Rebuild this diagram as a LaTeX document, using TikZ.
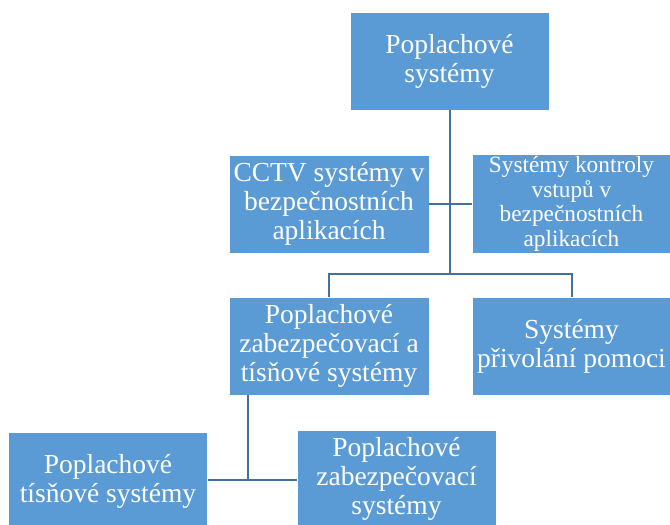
\documentclass[tikz,border=0pt]{standalone}
\usepackage{fontspec}
\setmainfont{Liberation Serif}
\definecolor{boxblue}{HTML}{5B9BD5}
\definecolor{linkblue}{HTML}{41719C}
\begin{document}
\begin{tikzpicture}[x=1pt,y=-1pt,
  unit/.style={rectangle, fill=boxblue, draw=white, line width=0.8pt,
    text=white, align=center, inner sep=2pt,
    font=\fontsize{27.5}{29}\selectfont},
  smallunit/.style={unit, font=\fontsize{23.3}{24.5}\selectfont},
  link/.style={draw=linkblue, line width=2pt}]
\useasboundingbox (0,0) rectangle (670,525);

% hierarchy boxes
\node[unit, minimum width=199pt, minimum height=98pt] (top) at (449.5,61) {Poplachové\\systémy};
\node[unit, minimum width=200pt, minimum height=98pt] (cctv) at (329,204) {CCTV systémy v\\bezpečnostních\\aplikacích};
\node[smallunit, minimum width=199pt, minimum height=98pt] (ctrl) at (571.5,204) {Systémy kontroly\\vstupů v\\bezpečnostních\\aplikacích};
\node[unit, minimum width=200pt, minimum height=98pt] (mid) at (329,346) {Poplachové\\zabezpečovací a\\tísňové systémy};
\node[unit, minimum width=199pt, minimum height=98pt] (help) at (571.5,346) {Systémy\\přivolání pomoci};
\node[unit, minimum width=199pt, minimum height=98pt] (bl) at (108,481) {Poplachové\\tísňové systémy};
\node[unit, minimum width=199pt, minimum height=98pt] (br) at (396.5,479) {Poplachové\\zabezpečovací\\systémy};

% connectors
\coordinate (bus) at (449.5,274);
\coordinate (fork) at (248,480);
\draw[link] (top.south) -- (bus);
\draw[link] (cctv.east) -- (ctrl.west);
\draw[link] (mid.north) |- (bus) -| (help.north);
\draw[link] (mid.south -| fork) -- (fork);
\draw[link] (bl.east |- fork) -- (br.west |- fork);
\end{tikzpicture}
\end{document}
